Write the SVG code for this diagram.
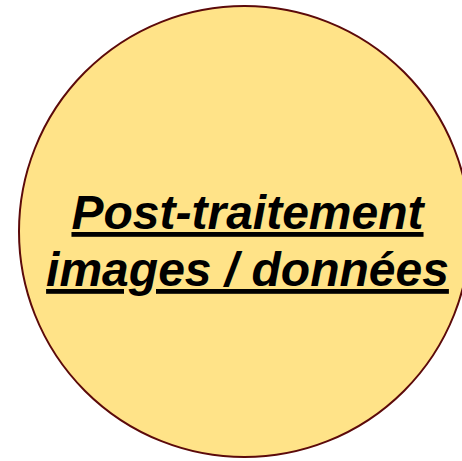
<svg xmlns="http://www.w3.org/2000/svg" width="462" height="461" viewBox="0 0 462 461">
<style>
.node{fill:#FFE388;stroke:#5C0A0A;stroke-width:2}
.lbl{font-family:"Liberation Sans",Arial,sans-serif;font-weight:bold;font-style:italic;font-size:48px;fill:#000;text-anchor:middle;text-decoration:underline}
</style>
<rect width="462" height="461" fill="#fff"/>
<g id="connectors"></g>
<g id="node-post-traitement">
<circle class="node" cx="244.5" cy="231.5" r="225.5"/>
<text class="lbl" x="247.5" y="229">Post-traitement</text>
<text class="lbl" x="247.5" y="286">images / données</text>
</g>
</svg>
